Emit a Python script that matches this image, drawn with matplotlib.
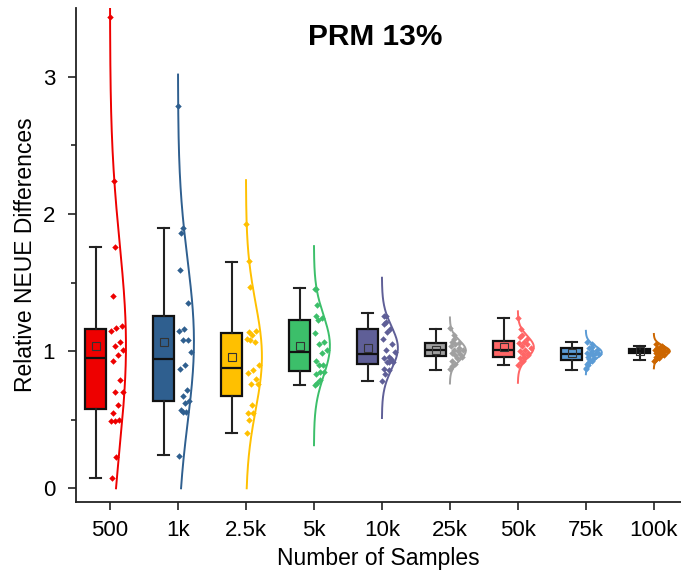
import numpy as np
import matplotlib.pyplot as plt

plt.rcParams['font.family'] = ['Liberation Sans', 'DejaVu Sans']

labels = ['500', '1k', '2.5k', '5k', '10k', '25k', '50k', '75k', '100k']
colors = ['#EE0000', '#2F5F8F', '#FFC000', '#3CBF6A', '#5F5F97',
          '#A0A0A0', '#FF6666', '#5B9BD5', '#CC6600']

# box statistics
q1 = [0.58, 0.64, 0.675, 0.854, 0.91, 0.963, 0.958, 0.934, 0.983]
med = [0.95, 0.945, 0.88, 0.995, 0.978, 1.007, 1.007, 0.978, 0.998]
q3 = [1.165, 1.255, 1.13, 1.23, 1.163, 1.056, 1.073, 1.02, 1.015]
whislo = [0.073, 0.24, 0.405, 0.75, 0.78, 0.866, 0.90, 0.866, 0.934]
whishi = [1.76, 1.895, 1.65, 1.458, 1.277, 1.165, 1.24, 1.068, 1.04]
means = [1.04, 1.07, 0.96, 1.04, 1.024, 1.005, 1.03, 0.99, 1.0]
curve_sd = [0.745, 0.59, 0.39, 0.22, 0.155, 0.073, 0.079, 0.048, 0.038]

# individual samples
pts_500 = [3.44, 2.24, 1.76, 1.40, 1.18, 1.17, 1.15, 1.07, 1.04, 1.01, 0.97,
           0.93, 0.79, 0.70, 0.70, 0.61, 0.55, 0.50, 0.49, 0.49, 0.23, 0.075]
pts_1k = [2.79, 1.90, 1.86, 1.59, 1.35, 1.16, 1.15, 1.08, 1.08, 0.995, 0.90,
          0.87, 0.72, 0.67, 0.64, 0.62, 0.57, 0.56, 0.56, 0.235]
pts_2k5 = [1.93, 1.66, 1.47, 1.14, 1.15, 1.12, 1.09, 1.07, 1.085, 0.90, 0.86,
           0.84, 0.80, 0.76, 0.757, 0.606, 0.55, 0.55, 0.50, 0.406]
pts_5k = [1.45, 1.45, 1.335, 1.26, 1.24, 1.23, 1.13, 1.07, 1.05, 1.007, 0.99,
          0.93, 0.90, 0.90, 0.85, 0.85, 0.83, 0.79, 0.77, 0.75]
pts_10k = [1.26, 1.255, 1.21, 1.20, 1.165, 1.14, 1.09, 1.05, 1.007, 0.995,
           0.954, 0.951, 0.94, 0.92, 0.92, 0.92, 0.87, 0.86, 0.83, 0.78]
pts_25k = [1.17, 1.12, 1.09, 1.07, 1.06, 1.05, 1.04, 1.02, 1.01, 1.01, 1.00,
           0.99, 0.98, 0.97, 0.96, 0.95, 0.93, 0.91, 0.89, 0.87]
pts_50k = [1.24, 1.16, 1.12, 1.10, 1.09, 1.07, 1.06, 1.05, 1.04, 1.02, 1.01,
           1.00, 0.99, 0.98, 0.97, 0.96, 0.95, 0.93, 0.92, 0.90]
pts_75k = [1.07, 1.05, 1.03, 1.02, 1.01, 1.00, 0.99, 0.99, 0.98, 0.98, 0.97,
           0.96, 0.95, 0.94, 0.93, 0.92, 0.91, 0.90, 0.88, 0.87]
pts_100k = [1.05, 1.04, 1.03, 1.02, 1.02, 1.01, 1.01, 1.00, 1.00, 1.00, 0.99,
            0.99, 0.98, 0.98, 0.97, 0.96, 0.96, 0.95, 0.94, 0.93]
points = [pts_500, pts_1k, pts_2k5, pts_5k, pts_10k, pts_25k, pts_50k,
          pts_75k, pts_100k]

fig = plt.figure(figsize=(6.81, 5.74), dpi=100)
ax = fig.add_axes([0.1116, 0.1254, 0.8884, 0.8601])

pos = np.arange(len(labels))
box_shift = -0.21
amp = 0.235

stats = []
for i in range(len(labels)):
    stats.append(dict(med=med[i], q1=q1[i], q3=q3[i], whislo=whislo[i],
                      whishi=whishi[i], mean=means[i], fliers=[]))

bp = ax.bxp(stats, positions=pos + box_shift, widths=0.31, capwidths=0.17,
            patch_artist=True, showmeans=True, showfliers=False,
            manage_ticks=False,
            boxprops=dict(edgecolor='#111111', linewidth=1.6),
            medianprops=dict(color='#111111', linewidth=1.6),
            whiskerprops=dict(color='#222222', linewidth=1.5),
            capprops=dict(color='#222222', linewidth=1.5),
            meanprops=dict(marker='s', markersize=5.5, markerfacecolor='none',
                           markeredgecolor='#333333', markeredgewidth=0.8))
for patch, c in zip(bp['boxes'], colors):
    patch.set_facecolor(c)

for i, c in enumerate(colors):
    m, sd = means[i], curve_sd[i]
    yy = np.linspace(max(0.0, m - 3.3 * sd), m + 3.3 * sd, 200)
    ax.plot(pos[i] + amp * np.exp(-0.5 * ((yy - m) / sd) ** 2), yy,
            color=c, lw=1.4, zorder=3)
    y = np.array(points[i])
    frac = 0.08 + 0.85 * ((np.arange(len(y)) * 0.618 + 0.3) % 1.0)
    x = pos[i] + frac * amp * np.exp(-0.5 * ((y - m) / sd) ** 2)
    ax.plot(x, y, 'D', color=c, ms=3.3, mew=0, zorder=4)

ax.set_xlim(-0.5, 8.4)
ax.set_ylim(-0.1, 3.5)
ax.set_xticks(pos, labels)
ax.set_yticks([0, 1, 2, 3])
ax.set_yticks([0.5, 1.5, 2.5], minor=True)
ax.tick_params(which='major', direction='out', length=6, width=1.2,
               labelsize=16, pad=7, color='#222222')
ax.tick_params(axis='y', which='minor', direction='out', length=3.5, width=1.2,
               color='#222222')
ax.tick_params(axis='y', which='major', pad=9)
for side in ['top', 'right']:
    ax.spines[side].set_visible(False)
for side in ['left', 'bottom']:
    ax.spines[side].set_linewidth(1.3)
    ax.spines[side].set_color('#222222')

ax.set_xlabel('Number of Samples', fontsize=16.5, labelpad=4)
ax.set_ylabel('Relative NEUE Differences', fontsize=16.5, labelpad=4)
ax.text(0.494, 0.926, 'PRM 13%', transform=ax.transAxes, ha='center',
        va='baseline', fontsize=21.5, fontweight='bold')

fig.savefig('out.png', dpi=100)
